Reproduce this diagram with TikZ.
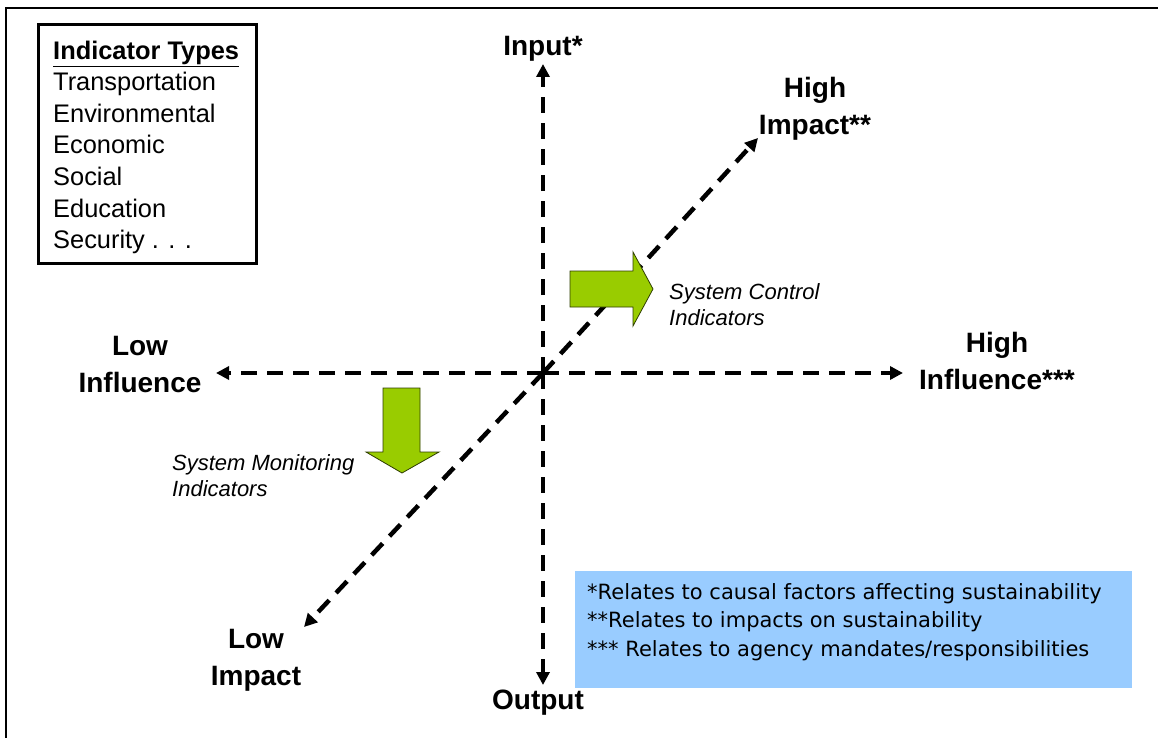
\documentclass[tikz,border=0pt]{standalone}
\usepackage{fontspec}
\setmainfont{Liberation Sans}
\newfontfamily\notefont{DejaVu Sans}
\usetikzlibrary{arrows.meta}
\definecolor{leafgreen}{HTML}{99CC00}
\definecolor{notesky}{HTML}{99CCFF}
\begin{document}
\begin{tikzpicture}[x=1pt,y=-1pt,
  axis/.style={line width=4.5pt,dash pattern=on 16pt off 10pt,
    -{Triangle[length=13pt,width=13pt]}},
  biglabel/.style={font=\fontsize{28}{37}\selectfont\bfseries,align=center,inner sep=0pt},
  sidenote/.style={font=\fontsize{22}{26}\selectfont\itshape,align=left,anchor=west,inner sep=0pt},
  fatarrow/.style={fill=leafgreen,draw=black!70!leafgreen,line width=0.8pt,line join=miter}]
\useasboundingbox (0,0) rectangle (1158,738);
% frame
\draw[line width=2.5pt] (6,738) -- (6,8) -- (1158,8);

% indicator legend
\draw[line width=3pt] (38,25) rectangle (256,263);
\node[anchor=north west,inner sep=0pt,align=left,
  font=\fontsize{25.4}{31.6}\selectfont] (types) at (53,40.5)
  {\underline{\textbf{Indicator Types}}\\Transportation\\Environmental\\Economic\\Social\\Education\\Security . . .};

% footnotes
\fill[notesky] (575,571) rectangle (1132,688);
\node[anchor=north west,inner sep=0pt,align=left,
  font=\notefont\fontsize{21}{28.5}\selectfont] (notes) at (587,583)
  {*Relates to causal factors affecting sustainability\\
   **Relates to impacts on sustainability\\
   *** Relates to agency mandates/responsibilities};

% axis labels
\node[biglabel] (input) at (543,49) {Input*};
\node[biglabel] (output) at (538,703) {Output};
\node[biglabel] (lowinf) at (140,364.5) {Low\\Influence};
\node[biglabel] (highinf) at (997,360.5) {High\\Influence***};
\node[biglabel] (highimp) at (815,108.5) {High\\Impact**};
\node[biglabel] (lowimp) at (256,660.5) {Low\\Impact};

% axes
\coordinate (o) at (543,373);
\coordinate (up) at (543,64);
\coordinate (down) at (543,685);
\coordinate (left) at (216,373);
\coordinate (right) at (903,373);
\coordinate (ne) at (758,138);
\coordinate (sw) at (304,627);
\draw[axis] (o) -- (up);
\draw[axis] (o) -- (down);
\draw[axis] (o) -- (left);
\draw[axis] (o) -- (right);
\draw[axis] (o) -- (ne);
\draw[axis] (o) -- (sw);

% block arrows
\draw[fatarrow] (570,271) -- (633,271) -- (633,252) -- (653,289) -- (633,326)
  -- (633,307) -- (570,307) -- cycle;
\draw[fatarrow] (383,388) -- (420,388) -- (420,452) -- (439,452) -- (402,473)
  -- (366,452) -- (383,452) -- cycle;
\node[sidenote] (control) at (669,305) {System Control\\Indicators};
\node[sidenote] (monitor) at (172,476) {System Monitoring\\Indicators};
\end{tikzpicture}
\end{document}
